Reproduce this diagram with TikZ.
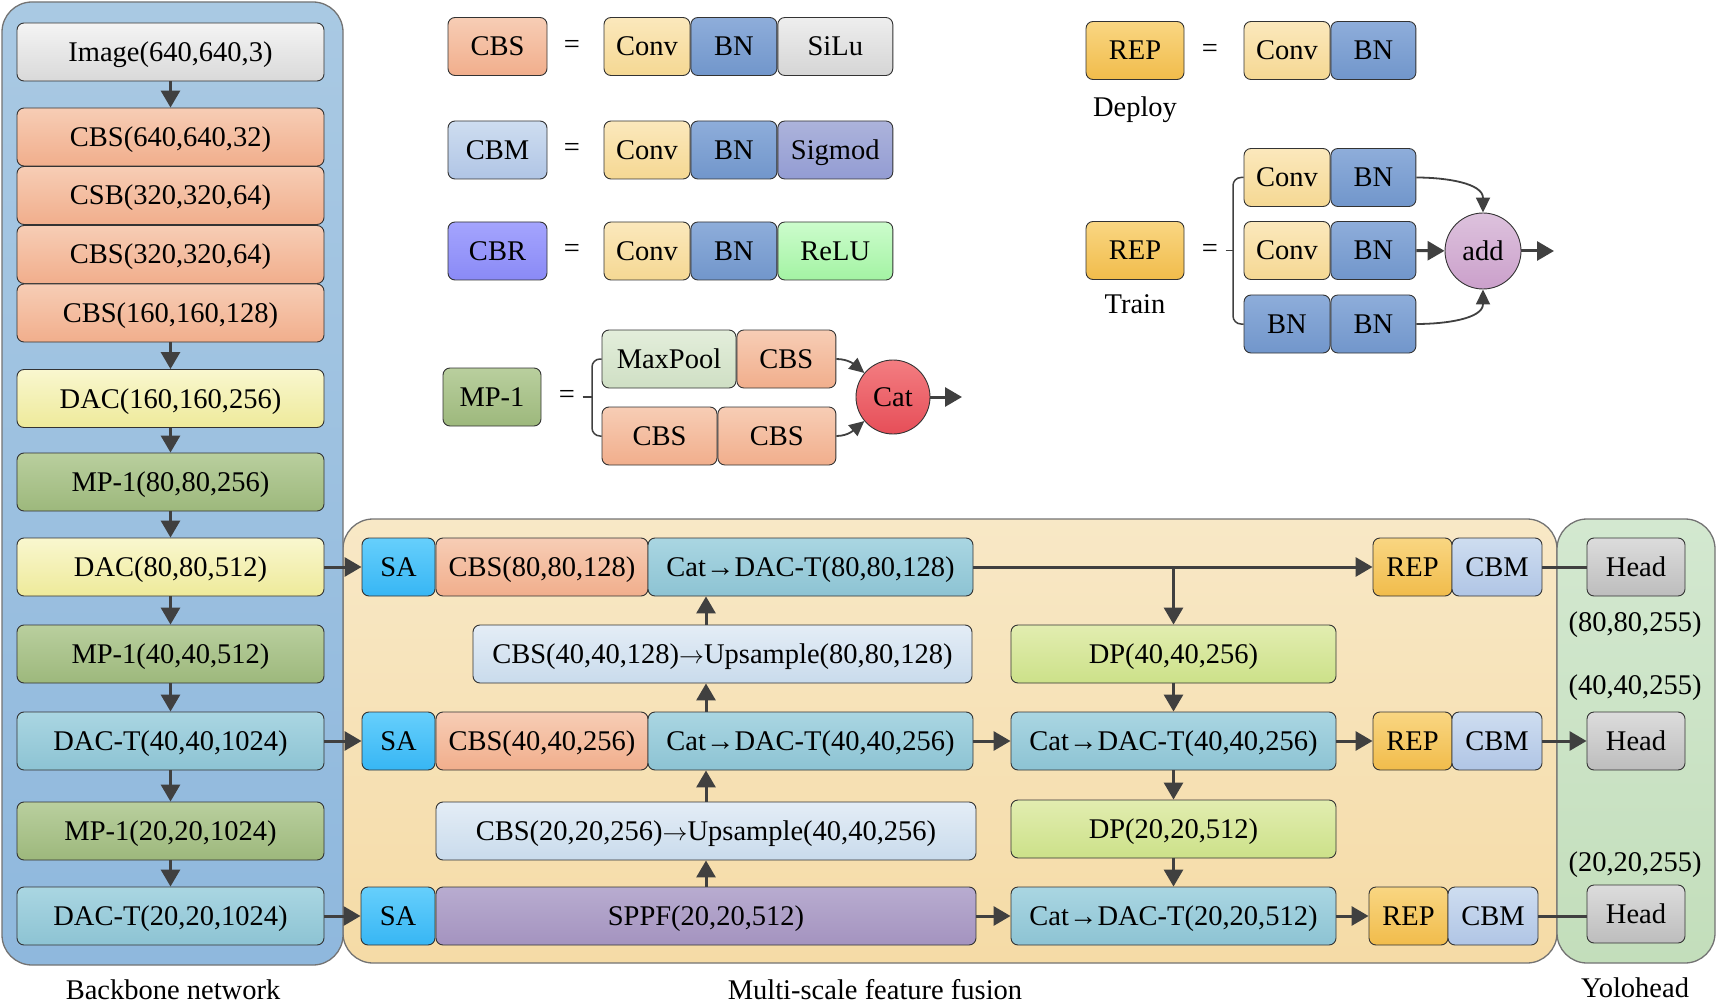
\documentclass[tikz,border=0pt]{standalone}
\usepackage{fontspec}
\setmainfont{Liberation Serif}
\usetikzlibrary{arrows.meta}
\definecolor{linegray}{HTML}{404040}
\definecolor{bbA}{HTML}{A9C9E3}\definecolor{bbB}{HTML}{8FB8DD}
\definecolor{fuA}{HTML}{F8E8C6}\definecolor{fuB}{HTML}{F5DBA6}
\definecolor{yoA}{HTML}{D3E8D0}\definecolor{yoB}{HTML}{C3DEBB}
\definecolor{imgA}{HTML}{F4F4F4}\definecolor{imgB}{HTML}{D9D9D9}
\definecolor{cbsA}{HTML}{F7CDB5}\definecolor{cbsB}{HTML}{F1AE8C}
\definecolor{dacA}{HTML}{F9F7CF}\definecolor{dacB}{HTML}{EEEA9A}
\definecolor{mpA}{HTML}{B9CF9E}\definecolor{mpB}{HTML}{9DB87C}
\definecolor{dactA}{HTML}{AAD6E2}\definecolor{dactB}{HTML}{8DC3D3}
\definecolor{saA}{HTML}{66CFFC}\definecolor{saB}{HTML}{37B6F4}
\definecolor{upA}{HTML}{E4EDF6}\definecolor{upB}{HTML}{C9DBEC}
\definecolor{sppfA}{HTML}{B8ACD0}\definecolor{sppfB}{HTML}{A493BF}
\definecolor{dpA}{HTML}{E2EDB0}\definecolor{dpB}{HTML}{CCE189}
\definecolor{repA}{HTML}{F9D682}\definecolor{repB}{HTML}{F1BC4B}
\definecolor{cbmA}{HTML}{CEDDF0}\definecolor{cbmB}{HTML}{B0C5E5}
\definecolor{headA}{HTML}{DCDCDC}\definecolor{headB}{HTML}{BDBDBD}
\definecolor{convA}{HTML}{FBE8BC}\definecolor{convB}{HTML}{F5D893}
\definecolor{bnA}{HTML}{8EADDA}\definecolor{bnB}{HTML}{7196CB}
\definecolor{siluA}{HTML}{EEEEEE}\definecolor{siluB}{HTML}{D5D5D5}
\definecolor{sigA}{HTML}{ACB3DB}\definecolor{sigB}{HTML}{939CD3}
\definecolor{reluA}{HTML}{CCFCCC}\definecolor{reluB}{HTML}{A3F3A3}
\definecolor{cbrA}{HTML}{A4A4FE}\definecolor{cbrB}{HTML}{8A8AF6}
\definecolor{poolA}{HTML}{E3EEDB}\definecolor{poolB}{HTML}{CFDFC4}
\definecolor{catA}{HTML}{F37D81}\definecolor{catB}{HTML}{E64E58}
\definecolor{addA}{HTML}{DDC2DD}\definecolor{addB}{HTML}{CBA0CB}
\begin{document}
\begin{tikzpicture}[x=1pt,y=-1pt,
every node/.style={font=\fontsize{28.5}{34}\selectfont},
box/.style={draw=black!80,line width=0.9pt,rounded corners=7pt,inner sep=0pt,minimum height=58pt,text height=25pt,text depth=6pt},
panel/.style={draw=black!55,line width=1.3pt,rounded corners=30pt},
bb/.style={box,minimum width=307pt},
imgbox/.style={top color=imgA,bottom color=imgB},
cbsbox/.style={top color=cbsA,bottom color=cbsB},
dacbox/.style={top color=dacA,bottom color=dacB},
mpbox/.style={top color=mpA,bottom color=mpB},
dactbox/.style={top color=dactA,bottom color=dactB},
sabox/.style={top color=saA,bottom color=saB},
upbox/.style={top color=upA,bottom color=upB},
sppfbox/.style={top color=sppfA,bottom color=sppfB},
dpbox/.style={top color=dpA,bottom color=dpB},
repbox/.style={top color=repA,bottom color=repB},
cbmbox/.style={top color=cbmA,bottom color=cbmB},
headbox/.style={top color=headA,bottom color=headB},
convbox/.style={top color=convA,bottom color=convB},
bnbox/.style={top color=bnA,bottom color=bnB},
silubox/.style={top color=siluA,bottom color=siluB},
sigbox/.style={top color=sigA,bottom color=sigB},
relubox/.style={top color=reluA,bottom color=reluB},
cbrbox/.style={top color=cbrA,bottom color=cbrB},
poolbox/.style={top color=poolA,bottom color=poolB},
arr/.style={draw=linegray,line width=3pt,-{Triangle[length=17pt,width=19pt]}},
carr/.style={draw=linegray,line width=1.8pt,-{Triangle[length=15pt,width=14pt]}},
ln/.style={draw=linegray,line width=3pt},
brk/.style={draw=linegray,line width=1.5pt,rounded corners=8pt}]
\useasboundingbox (0,0) rectangle (1717,1003);
\draw[panel,top color=fuA,bottom color=fuB] (343,519) rectangle (1557,963);
\draw[panel,top color=yoA,bottom color=yoB] (1557,519) rectangle (1715,963);
\draw[panel,top color=bbA,bottom color=bbB] (2,2) rectangle (343,965);
\node[bb,imgbox] (img) at (170.5,52) {Image(640,640,3)};
\node[bb,cbsbox] (cbs1) at (170.5,137) {CBS(640,640,32)};
\node[bb,cbsbox] (csb) at (170.5,195.5) {CSB(320,320,64)};
\node[bb,cbsbox] (cbs2) at (170.5,254.5) {CBS(320,320,64)};
\node[bb,cbsbox] (cbs3) at (170.5,313) {CBS(160,160,128)};
\node[bb,dacbox] (dac1) at (170.5,398.5) {DAC(160,160,256)};
\node[bb,mpbox] (mp1) at (170.5,482) {MP-1(80,80,256)};
\node[bb,dacbox] (dac2) at (170.5,567) {DAC(80,80,512)};
\node[bb,mpbox] (mp2) at (170.5,654) {MP-1(40,40,512)};
\node[bb,dactbox] (dact1) at (170.5,741) {DAC-T(40,40,1024)};
\node[bb,mpbox] (mp3) at (170.5,831) {MP-1(20,20,1024)};
\node[bb,dactbox] (dact2) at (170.5,916) {DAC-T(20,20,1024)};
\node[anchor=base] (bbtxt) at (173,999) {Backbone network};
\node[box,sabox,minimum width=73pt] (sa1) at (398.5,567) {SA};
\node[box,cbsbox,minimum width=212pt] (cbsf1) at (542,567) {CBS(80,80,128)};
\node[box,dactbox,minimum width=325pt] (catd1) at (810.5,567) {Cat→DAC-T(80,80,128)};
\node[box,upbox,minimum width=499pt] (up1) at (722.5,654) {CBS(40,40,128)$\rightarrow$Upsample(80,80,128)};
\node[box,sabox,minimum width=73pt] (sa2) at (398.5,741) {SA};
\node[box,cbsbox,minimum width=212pt] (cbsf2) at (542,741) {CBS(40,40,256)};
\node[box,dactbox,minimum width=325pt] (catd2) at (810.5,741) {Cat→DAC-T(40,40,256)};
\node[box,upbox,minimum width=540pt] (up2) at (706,831) {CBS(20,20,256)$\rightarrow$Upsample(40,40,256)};
\node[box,sabox,minimum width=74pt] (sa3) at (398,916) {SA};
\node[box,sppfbox,minimum width=540pt] (sppf) at (706,916) {SPPF(20,20,512)};
\node[box,dpbox,minimum width=325pt] (dp1) at (1173.5,654) {DP(40,40,256)};
\node[box,dactbox,minimum width=325pt] (catd3) at (1173.5,741) {Cat→DAC-T(40,40,256)};
\node[box,dpbox,minimum width=325pt] (dp2) at (1173.5,829) {DP(20,20,512)};
\node[box,dactbox,minimum width=325pt] (catd4) at (1173.5,916) {Cat→DAC-T(20,20,512)};
\node[box,repbox,minimum width=79pt] (rep1) at (1412.5,567) {REP};
\node[box,cbmbox,minimum width=90pt] (cbm1) at (1497,567) {CBM};
\node[box,repbox,minimum width=79pt] (rep2) at (1412.5,741) {REP};
\node[box,cbmbox,minimum width=90pt] (cbm2) at (1497,741) {CBM};
\node[box,repbox,minimum width=79pt] (rep3) at (1408.5,916) {REP};
\node[box,cbmbox,minimum width=90pt] (cbm3) at (1493,916) {CBM};
\node[anchor=base] (futxt) at (875,999) {Multi-scale feature fusion};
\node[box,headbox,minimum width=98pt] (head1) at (1636,567) {Head};
\node[box,headbox,minimum width=98pt] (head2) at (1636,741) {Head};
\node[box,headbox,minimum width=98pt] (head3) at (1636,914) {Head};
\node (out1) at (1635,625) {(80,80,255)};
\node (out2) at (1635,688) {(40,40,255)};
\node (out3) at (1635,865) {(20,20,255)};
\node[anchor=base] (yotxt) at (1635,997) {Yolohead};
\draw[arr] (img) -- (cbs1);
\draw[arr] (cbs3) -- (dac1);
\draw[arr] (dac1) -- (mp1);
\draw[arr] (mp1) -- (dac2);
\draw[arr] (dac2) -- (mp2);
\draw[arr] (mp2) -- (dact1);
\draw[arr] (dact1) -- (mp3);
\draw[arr] (mp3) -- (dact2);
\draw[arr] (dac2) -- (sa1);
\draw[arr] (dact1) -- (sa2);
\draw[arr] (dact2) -- (sa3);
\draw[arr] (sppf) -- (up2);
\draw[arr] (up2.north) -- (up2.north |- catd2.south);
\draw[arr] (up2.north |- catd2.north) -- (up2.north |- up1.south);
\draw[arr] (up2.north |- up1.north) -- (up2.north |- catd1.south);
\draw[arr] (catd1) -- (rep1);
\draw[arr] (dp1.north |- catd1.east) -- (dp1);
\draw[arr] (dp1) -- (catd3);
\draw[arr] (catd3) -- (dp2);
\draw[arr] (dp2) -- (catd4);
\draw[arr] (catd2) -- (catd3);
\draw[arr] (sppf) -- (catd4);
\draw[arr] (catd3) -- (rep2);
\draw[arr] (catd4) -- (rep3);
\draw[ln] (cbm1) -- (head1);
\draw[arr] (cbm2) -- (head2);
\draw[ln] (cbm3.east) -- (cbm3.east -| head3.west);
\node[box,cbsbox,minimum width=99pt] (lcbs) at (497.5,46.5) {CBS};
\node (eq1) at (572,46.5) {=};
\node[box,convbox,minimum width=86pt] (conv1) at (647,46.5) {Conv};
\node[box,bnbox,minimum width=86pt,anchor=west] (bn1) at (conv1.east) {BN};
\node[box,silubox,minimum width=115pt,anchor=west] (silu) at (bn1.east) {SiLu};
\node[box,cbmbox,minimum width=99pt] (lcbm) at (497.5,150) {CBM};
\node (eq2) at (572,150) {=};
\node[box,convbox,minimum width=86pt] (conv2) at (647,150) {Conv};
\node[box,bnbox,minimum width=86pt,anchor=west] (bn2) at (conv2.east) {BN};
\node[box,sigbox,minimum width=115pt,anchor=west] (sig) at (bn2.east) {Sigmod};
\node[box,cbrbox,minimum width=99pt] (lcbr) at (497.5,251) {CBR};
\node (eq3) at (572,251) {=};
\node[box,convbox,minimum width=86pt] (conv3) at (647,251) {Conv};
\node[box,bnbox,minimum width=86pt,anchor=west] (bn3) at (conv3.east) {BN};
\node[box,relubox,minimum width=115pt,anchor=west] (relu) at (bn3.east) {ReLU};
\node[box,mpbox,minimum width=98pt] (lmp) at (492,397) {MP-1};
\node (eq4) at (567,397) {=};
\node[box,poolbox,minimum width=134pt] (mpool) at (669,359) {MaxPool};
\node[box,cbsbox,minimum width=99pt,anchor=west] (cbst) at (mpool.east) {CBS};
\node[box,cbsbox,minimum width=115pt] (cbsbl) at (659.5,436) {CBS};
\node[box,cbsbox,minimum width=118pt,anchor=west] (cbsbr) at (cbsbl.east) {CBS};
\node[circle,draw=black!80,line width=0.9pt,top color=catA,bottom color=catB,minimum size=74pt,inner sep=0pt] (cat) at (893,397) {Cat};
\coordinate (mpb) at (592,397);
\coordinate (catout) at (962,397);
\draw[brk] (mpool.west) -| (mpb) |- (cbsbl.west);
\draw[brk,shorten <=4pt] (eq4.east) -- (mpb);
\draw[carr] (cbst.east) to[out=0,in=140] (cat.140);
\draw[carr] (cbsbr.east) to[out=0,in=220] (cat.220);
\draw[arr] (cat) -- (catout);
\node[box,repbox,minimum width=98pt] (drep) at (1135,50.5) {REP};
\node (eq5) at (1210,50.5) {=};
\node[box,convbox,minimum width=86pt] (dconv) at (1287,50.5) {Conv};
\node[box,bnbox,minimum width=85pt,anchor=west] (dbn) at (dconv.east) {BN};
\node (deploy) at (1135,110) {Deploy};
\node[box,repbox,minimum width=98pt] (trep) at (1135,250.5) {REP};
\node (eq6) at (1210,250.5) {=};
\node (train) at (1135,304) {Train};
\node[box,convbox,minimum width=86pt] (tconv1) at (1287,177.5) {Conv};
\node[box,bnbox,minimum width=85pt,anchor=west] (tbn1) at (tconv1.east) {BN};
\node[box,convbox,minimum width=86pt] (tconv2) at (1287,250.5) {Conv};
\node[box,bnbox,minimum width=85pt,anchor=west] (tbn2) at (tconv2.east) {BN};
\node[box,bnbox,minimum width=86pt] (tbn3) at (1287,324) {BN};
\node[box,bnbox,minimum width=85pt,anchor=west] (tbn4) at (tbn3.east) {BN};
\node[circle,draw=black!80,line width=0.9pt,top color=addA,bottom color=addB,minimum size=76pt,inner sep=0pt] (add) at (1483,251) {add};
\coordinate (repb) at (1233,250.5);
\coordinate (addout) at (1554,251);
\draw[brk] (tconv1.west) -| (repb) |- (tbn3.west);
\draw[brk,shorten <=4pt] (eq6.east) -- (repb);
\draw[carr] (tbn1.east) to[out=0,in=90] (add.north);
\draw[arr] (tbn2) -- (add);
\draw[carr] (tbn4.east) to[out=0,in=-90] (add.south);
\draw[arr] (add) -- (addout);
\end{tikzpicture}
\end{document}
